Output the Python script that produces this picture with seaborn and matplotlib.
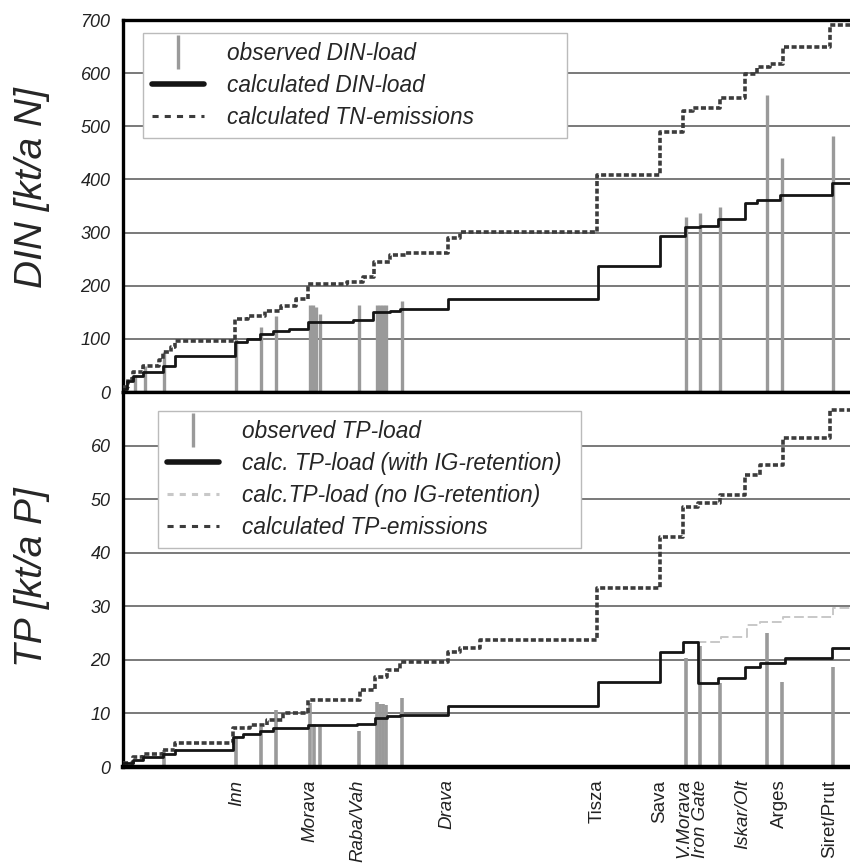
import matplotlib
matplotlib.use("Agg")
import matplotlib.pyplot as plt
from matplotlib.lines import Line2D
import pandas as pd
import seaborn as sns

# position along the Danube [km from source]
river_names = ["Inn", "Morava", "Raba/Vah", "Drava", "Tisza", "Sava",
               "V.Morava", "Iron Gate", "Iskar/Olt", "Arges", "Siret/Prut"]
river_km = [447, 733, 921, 1270, 1858, 2105, 2199, 2262, 2430, 2572, 2771]
upright_names = ["Tisza", "Sava", "Arges", "Siret/Prut"]

# DIN panel
din_km = [0, 15, 41, 80, 157, 204, 439, 485, 537, 588, 650, 725, 900, 980,
          1046, 1086, 1274, 1862, 2105, 2203, 2262, 2332, 2438, 2485, 2575,
          2779, 2850]
din_calc = [5, 20, 30, 38, 49, 68, 94, 100, 109, 115, 119, 132, 136, 151,
            153, 157, 175, 238, 294, 311, 313, 326, 355, 361, 370, 394, 394]

tn_km = [0, 20, 41, 80, 140, 157, 190, 204, 439, 490, 555, 620, 680, 725,
         880, 940, 985, 1046, 1110, 1274, 1320, 1858, 2105, 2196, 2236, 2340,
         2438, 2484, 2536, 2588, 2771, 2850]
tn_emis = [10, 25, 38, 49, 60, 75, 85, 96, 138, 143, 153, 162, 175, 204,
           207, 217, 245, 257, 262, 289, 302, 408, 490, 528, 534, 553, 598,
           611, 617, 649, 690, 690]

din_obs_km = [47, 86, 161, 443, 540, 598, 733, 746, 757, 772, 926, 994, 1007,
              1020, 1031, 1092, 2209, 2262, 2340, 2523, 2582, 2784]
din_obs = [30, 49, 75, 100, 122, 144, 163, 163, 160, 147, 163, 163, 163, 163,
           163, 172, 330, 336, 349, 559, 440, 481]

# TP panel
tp_km = [0, 41, 80, 157, 204, 432, 472, 537, 589, 727, 916, 988, 1034, 1086,
         1275, 1862, 2105, 2196, 2255, 2334, 2438, 2497, 2595, 2779, 2850]
tp_calc = [0.7, 1.3, 1.9, 2.5, 3.1, 5.6, 6.2, 6.8, 7.3, 7.8, 8.1, 9.1, 9.5,
           9.7, 11.4, 15.9, 21.5, 23.4, 15.7, 16.6, 18.7, 19.4, 20.3, 22.2, 22.2]

tp_noig_km = [2196, 2345, 2445, 2497, 2588, 2784, 2850]
tp_noig = [23.4, 24.3, 26.5, 27.1, 28.0, 29.7, 29.7]

tpe_km = [0, 41, 80, 157, 204, 432, 498, 563, 628, 727, 929, 988, 1034, 1086,
          1275, 1321, 1400, 1858, 2105, 2196, 2255, 2340, 2438, 2497, 2588,
          2771, 2850]
tp_emis = [0.7, 1.9, 2.5, 3.1, 4.5, 7.3, 7.8, 8.8, 10.0, 12.5, 14.4, 16.8,
           18.1, 19.6, 21.5, 22.2, 23.7, 33.5, 43.0, 48.6, 49.3, 50.8, 54.6,
           56.4, 61.5, 66.7, 66.7]

tp_obs_km = [161, 443, 540, 598, 733, 750, 772, 926, 994, 1007, 1020, 1031,
             1092, 2209, 2262, 2340, 2523, 2582, 2784]
tp_obs = [3.1, 5.6, 7.5, 10.6, 12.0, 8.0, 7.5, 6.8, 12.1, 11.8, 11.8, 11.6,
          12.8, 20.3, 22.5, 15.7, 25.0, 15.9, 18.7]

sns.set_theme(style="white")
plt.rcParams["font.family"] = ["Liberation Sans", "DejaVu Sans"]
plt.rcParams["font.style"] = "italic"

obs_col = "#9a9a9a"
calc_col = "#151515"
emis_col = "#3c3c3c"
noig_col = "#c8c8c8"

fig = plt.figure(figsize=(8.5, 8.66), dpi=100)
ax1 = fig.add_axes([0.1447, 0.5473, 0.8553, 0.4296])
ax2 = fig.add_axes([0.1447, 0.1143, 0.8553, 0.4330], sharex=ax1)


def step(ax, x, y, **kw):
    df = pd.DataFrame({"km": x, "val": y})
    sns.lineplot(data=df, x="km", y="val", ax=ax, drawstyle="steps-post",
                 sort=False, estimator=None, **kw)


# top panel: DIN
ax1.vlines(din_obs_km, 0, din_obs, color=obs_col, lw=2.4, zorder=2)
step(ax1, tn_km, tn_emis, color=emis_col, lw=2.6, linestyle=(0, (1.4, 0.7)), zorder=3)
step(ax1, din_km, din_calc, color=calc_col, lw=2.0, zorder=4)

# bottom panel: TP
ax2.vlines(tp_obs_km, 0, tp_obs, color=obs_col, lw=2.6, zorder=2)
step(ax2, tpe_km, tp_emis, color=emis_col, lw=2.6, linestyle=(0, (1.4, 0.7)), zorder=3)
step(ax2, tp_noig_km, tp_noig, color=noig_col, lw=1.4, linestyle=(0, (5, 2)), zorder=3)
step(ax2, tp_km, tp_calc, color=calc_col, lw=2.0, zorder=4)

for ax in (ax1, ax2):
    ax.set_xlim(0, 2850)
    ax.set_axisbelow(True)
    ax.grid(axis="y", color="#555555", lw=1.1)
    ax.grid(axis="x", visible=False)
    ax.set_xlabel("")
    ax.spines["right"].set_visible(False)
    for s in ("left", "top", "bottom"):
        ax.spines[s].set_color("black")
        ax.spines[s].set_linewidth(2.4)
    ax.tick_params(axis="y", length=0, pad=9, labelsize=13, labelcolor="#222222")

ax1.set_ylim(0, 700)
ax1.set_yticks(range(0, 701, 100))
ax1.tick_params(axis="x", bottom=False, labelbottom=False)
ax1.set_ylabel("DIN [kt/a N]", fontsize=28)
ax1.yaxis.set_label_coords(-0.1, 0.55)

ax2.set_ylim(0, 70)
ax2.set_yticks(range(0, 61, 10))
ax2.spines["bottom"].set_linewidth(3.2)
ax2.set_xticks(river_km)
ax2.set_xticklabels(river_names, rotation=90, fontsize=13.5, color="#222222")
ax2.tick_params(axis="x", length=0, pad=9)
for lab in ax2.get_xticklabels():
    if lab.get_text() in upright_names:
        lab.set_style("normal")
ax2.set_ylabel("TP [kt/a P]", fontsize=28)
ax2.yaxis.set_label_coords(-0.1, 0.505)

leg_kw = dict(loc="upper left", mode="expand", borderaxespad=0, fontsize=16.3,
              frameon=True, fancybox=False, framealpha=1, edgecolor="#bbbbbb",
              handlelength=2.3, handletextpad=1.0, labelspacing=0.4,
              borderpad=0.4)

h1 = [Line2D([], [], ls="none", marker="|", ms=25, mew=2.4, color=obs_col),
      Line2D([], [], color=calc_col, lw=4),
      Line2D([], [], color=emis_col, lw=2.2, ls=(0, (2, 2)))]
l1 = ["observed DIN-load", "calculated DIN-load", "calculated TN-emissions"]
leg1 = ax1.legend(h1, l1, bbox_to_anchor=(0.0275, 0.2, 0.583, 0.765), **leg_kw)
leg1.get_frame().set_linewidth(1.0)

h2 = [Line2D([], [], ls="none", marker="|", ms=25, mew=2.4, color=obs_col),
      Line2D([], [], color=calc_col, lw=4),
      Line2D([], [], color=noig_col, lw=2.2, ls=(0, (2, 2))),
      Line2D([], [], color=emis_col, lw=2.2, ls=(0, (2, 2)))]
l2 = ["observed TP-load", "calc. TP-load (with IG-retention)",
      "calc.TP-load (no IG-retention)", "calculated TP-emissions"]
leg2 = ax2.legend(h2, l2, bbox_to_anchor=(0.048, 0.2, 0.582, 0.749), **leg_kw)
leg2.get_frame().set_linewidth(1.0)

fig.savefig("out.png", dpi=100)
